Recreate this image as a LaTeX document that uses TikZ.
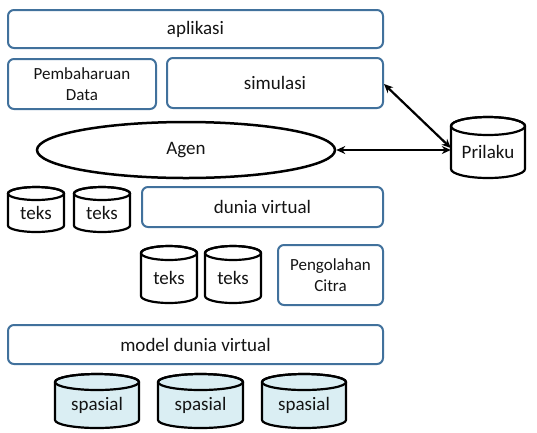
\documentclass[tikz,border=0pt]{standalone}
\usepackage{fontspec}
\setmainfont{Carlito}
\usetikzlibrary{arrows.meta,shapes.geometric}

\definecolor{boxline}{HTML}{41719C}
\definecolor{spfill}{HTML}{DAEEF3}
\definecolor{txt}{HTML}{141414}

\tikzset{
  lblfont/.style={font=\fontsize{19}{22}\selectfont, text=txt, align=center},
  smallfont/.style={font=\fontsize{17}{21}\selectfont},
  layerbox/.style={draw=boxline, line width=2pt, rounded corners=6pt,
    inner sep=0pt, lblfont},
  cylline/.style={draw=black, line width=2.2pt},
  link/.style={line width=2.2pt, {Stealth[length=9pt,width=8pt]}-{Stealth[length=9pt,width=8pt]}},
}

% database cylinder: name, left, top, right, bottom, cap radius, fill, label
\newcommand\dbcyl[8]{%
  \pgfmathsetmacro\cylcx{(#2+#4)/2}%
  \pgfmathsetmacro\cylrx{(#4-#2)/2}%
  \pgfmathsetmacro\cyltop{-(#3+#6)}%
  \pgfmathsetmacro\cylbot{-(#5-#6)}%
  \draw[cylline, fill=#7] (#2,\cyltop) -- (#2,\cylbot)
    arc[start angle=180, end angle=360, x radius=\cylrx, y radius=#6]
    -- (#4,\cyltop)
    arc[start angle=0, end angle=180, x radius=\cylrx, y radius=#6] -- cycle;
  \draw[cylline] (\cylcx,\cyltop) ellipse[x radius=\cylrx, y radius=#6];
  \node[lblfont, inner sep=0pt, minimum width={#4-#2}, minimum height={#5-#3-#6}]
    (#1) at (\cylcx,{-(#3+#5+#6)/2}) {#8};%
}

\begin{document}
\begin{tikzpicture}[x=1pt, y=1pt]
  \useasboundingbox (0,0) rectangle (537,-432);

  % upper layers
  \node[layerbox, minimum width=375, minimum height=38] (aplikasi) at (195.5,-29) {aplikasi};
  \node[layerbox, smallfont, minimum width=148, minimum height=50] (pembaharuan) at (82,-84)
    {Pembaharuan\\Data};
  \node[layerbox, minimum width=216, minimum height=50] (simulasi) at (275,-83) {simulasi};

  % agent and behaviour store
  \node[draw=black, line width=2.5pt, ellipse, minimum width=298, minimum height=56,
    inner sep=0pt, lblfont] (agen) at (186,-150) {Agen};
  \dbcyl{prilaku}{451}{117}{525}{178}{9}{white}{Prilaku}

  % virtual world layer
  \dbcyl{teksa}{8}{187}{64}{232}{6.5}{white}{teks}
  \dbcyl{teksb}{74}{187}{130}{232}{6.5}{white}{teks}
  \node[layerbox, minimum width=241, minimum height=40] (dunia) at (262.5,-207) {dunia virtual};

  \dbcyl{teksc}{141}{246}{197}{303}{7}{white}{teks}
  \dbcyl{teksd}{205}{246}{261}{303}{7}{white}{teks}
  \node[layerbox, smallfont, minimum width=105, minimum height=60] (citra) at (330.5,-275)
    {Pengolahan\\Citra};

  % model layer and spatial stores
  \node[layerbox, minimum width=375, minimum height=39] (model) at (195.5,-344.5) {model dunia virtual};
  \dbcyl{spasiala}{55}{374}{139}{428}{8}{spfill}{spasial}
  \dbcyl{spasialb}{158}{374}{243}{428}{8}{spfill}{spasial}
  \dbcyl{spasialc}{262}{374}{346}{428}{8}{spfill}{spasial}

  % connectors
  \coordinate (prin) at ([yshift=4pt]prilaku.west);
  \draw[link] ([yshift=-1pt]simulasi.east) -- (prin);
  \draw[link] (agen.east) -- (agen.east -| prin);
\end{tikzpicture}
\end{document}
